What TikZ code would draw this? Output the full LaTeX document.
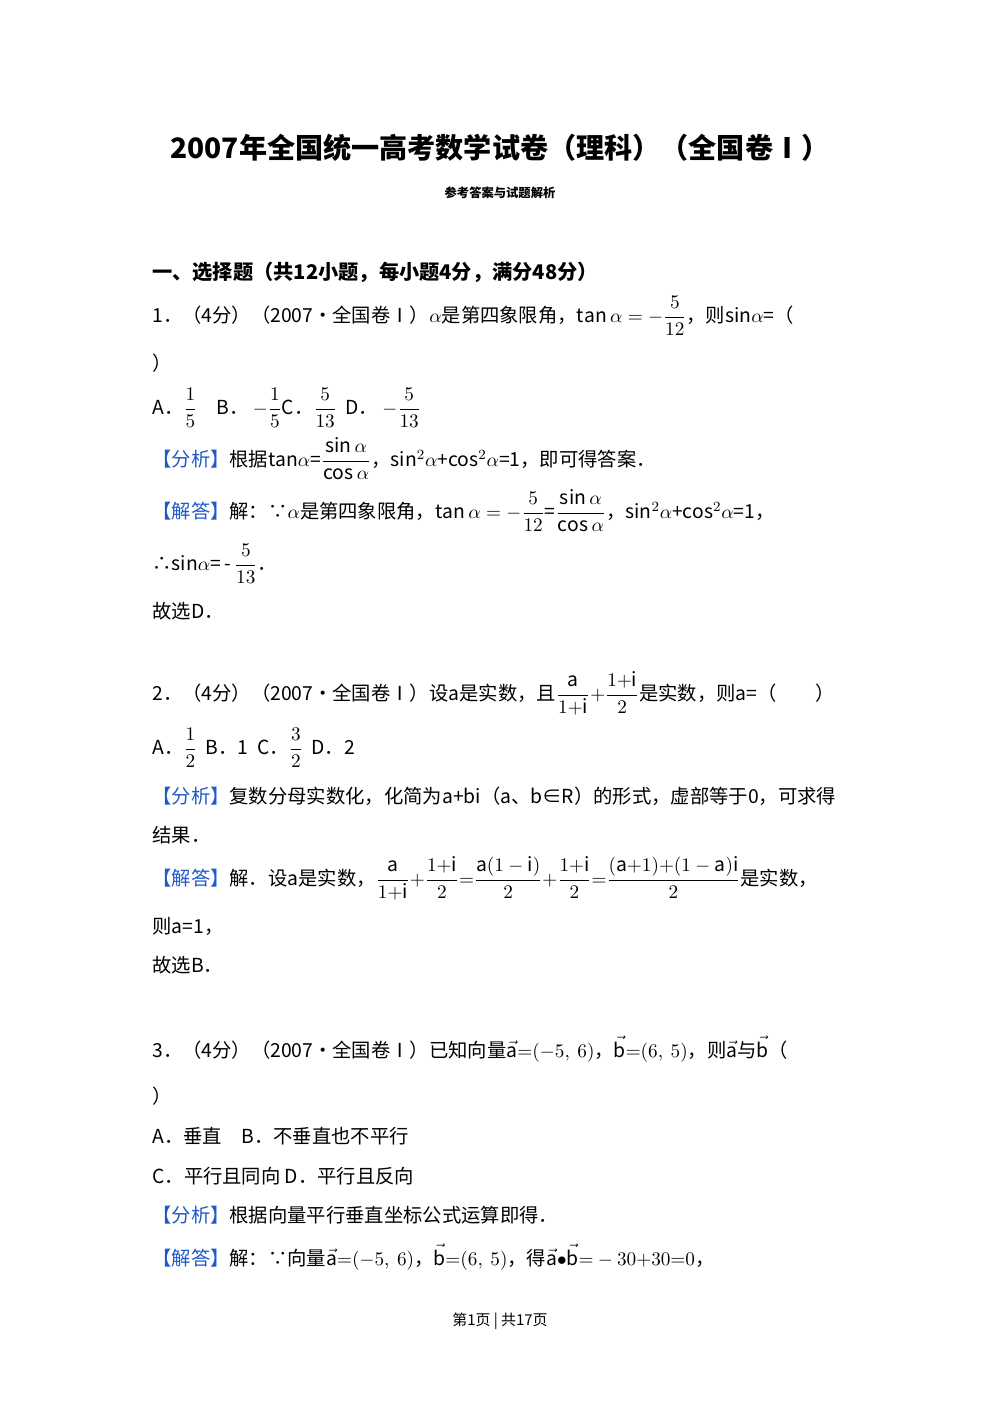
\documentclass[tikz,border=0pt]{standalone}
\usepackage{amsmath}
\usepackage{fontspec}
\setmainfont{Noto Sans CJK SC}
\definecolor{hb}{RGB}{30,90,200}
\begin{document}
\begin{tikzpicture}[x=0.02cm,y=-0.02cm,
  ln/.style={anchor=base west,inner sep=0pt,font=\fontsize{11}{12}\selectfont}]
\fill[white] (0,0) rectangle (1000,1414);
\useasboundingbox (0,0) rectangle (1000,1414);
\newcommand{\fx}{\textcolor{hb}{【分析】}}
\newcommand{\jd}{\textcolor{hb}{【解答】}}
\newcommand{\ra}{\mathrm{a}}
\newcommand{\ri}{\mathrm{i}}
\node[anchor=base,inner sep=0pt,font=\fontsize{16}{18}\selectfont\bfseries] (t) at (500,158) {2007年全国统一高考数学试卷（理科）（全国卷Ⅰ）};
\node[anchor=base,inner sep=0pt,font=\fontsize{7}{8}\selectfont\bfseries] (st) at (500,197) {参考答案与试题解析};
\node[ln,font=\fontsize{11.5}{13}\selectfont\bfseries] (s1) at (152,279) {一、选择题（共12小题，每小题4分，满分48分）};
\node[ln] (q1) at (152,322) {1．（4分）（2007•全国卷Ⅰ）$\alpha$是第四象限角，$\tan\alpha={-}\dfrac{5}{12}$，则sin$\alpha$=（};
\node[ln] (q1b) at (152,370) {）};
\node[ln] (q1o) at (152,414) {A．$\dfrac15$\quad B．\ $-\dfrac15$C．$\dfrac5{13}$\ \ D．\ $-\dfrac5{13}$};
\node[ln] (q1f) at (152,466) {\fx 根据tan$\alpha$=$\dfrac{\sin\alpha}{\cos\alpha}$，sin$^2\alpha$+cos$^2\alpha$=1，即可得答案．};
\node[ln] (q1j) at (152,518) {\jd 解：∵$\alpha$是第四象限角，$\tan\alpha={-}\dfrac{5}{12}$=$\dfrac{\sin\alpha}{\cos\alpha}$，sin$^2\alpha$+cos$^2\alpha$=1，};
\node[ln] (q1k) at (152,570) {∴sin$\alpha$=\,-\,$\dfrac{5}{13}$．};
\node[ln] (q1d) at (152,618) {故选D．};
\node[ln] (q2) at (152,700) {2．（4分）（2007•全国卷Ⅰ）设a是实数，且$\dfrac{\ra}{1{+}\ri}{+}\dfrac{1{+}\ri}{2}$是实数，则a=（\qquad）};
\node[ln] (q2o) at (152,754) {A．$\dfrac12$\ \ B．1\ \ C．$\dfrac32$\ \ D．2};
\node[ln] (q2f) at (152,803) {\fx 复数分母实数化，化简为a+bi（a、b∈R）的形式，虚部等于0，可求得};
\node[ln] (q2g) at (152,842) {结果．};
\node[ln] (q2j) at (152,885) {\jd 解．设a是实数，$\dfrac{\ra}{1{+}\ri}{+}\dfrac{1{+}\ri}{2}{=}\dfrac{\ra(1-\ri)}{2}{+}\dfrac{1{+}\ri}{2}{=}\dfrac{(\ra{+}1){+}(1-\ra)\ri}{2}$是实数，};
\node[ln] (q2k) at (152,933) {则a=1，};
\node[ln] (q2d) at (152,972) {故选B．};
\node[ln] (q3) at (152,1057) {3．（4分）（2007•全国卷Ⅰ）已知向量$\vec{\ra}{=}(-5,\ 6)$，$\vec{\mathrm b}{=}(6,\ 5)$，则$\vec{\ra}$与$\vec{\mathrm b}$（};
\node[ln] (q3b) at (152,1103) {）};
\node[ln] (q3a) at (152,1143) {A．垂直\quad B．不垂直也不平行};
\node[ln] (q3c) at (152,1183) {C．平行且同向\ D．平行且反向};
\node[ln] (q3f) at (152,1222) {\fx 根据向量平行垂直坐标公式运算即得．};
\node[ln] (q3j) at (152,1265) {\jd 解：∵向量$\vec{\ra}{=}(-5,\ 6)$，$\vec{\mathrm b}{=}(6,\ 5)$，得$\vec{\ra}{\bullet}\vec{\mathrm b}{=}-30{+}30{=}0$，};
\node[anchor=base,inner sep=0pt,font=\fontsize{8.5}{10}\selectfont] (ft) at (500,1325) {第1页 | 共17页};
\end{tikzpicture}
\end{document}
